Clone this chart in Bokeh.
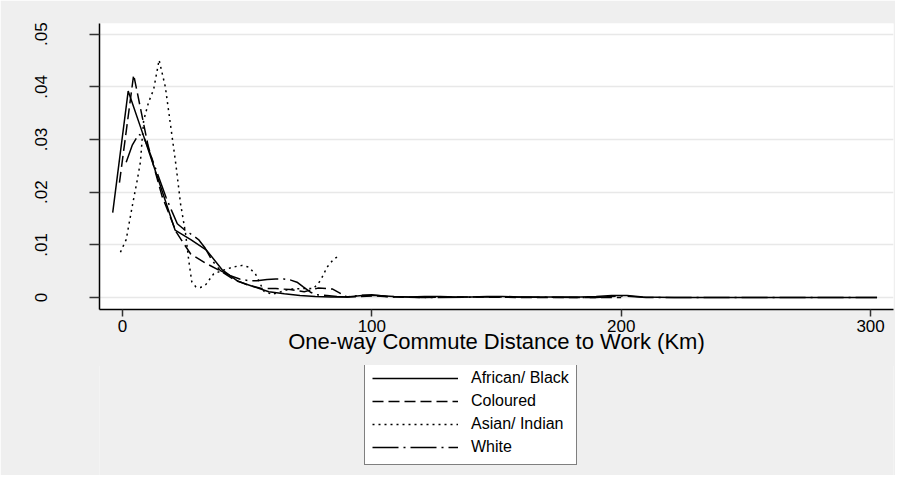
from bokeh.plotting import figure
from bokeh.models import Legend, LegendItem, FixedTicker, Range1d
from bokeh.layouts import column
from bokeh.embed import file_html
from bokeh.resources import INLINE

# ---- data ----
black_x = [-3.9, 2.3, 8.6, 14.8, 21.1, 27.4, 33.7, 39.9, 46.2, 52.4, 58.7, 64.9, 71.2, 77.4,
           83.7, 89.9, 96.2, 102.4, 108.7, 114.9, 121.2, 127.4, 133.7, 139.9, 146.2, 152.4,
           158.7, 171.2, 183.7, 190.0, 196.2, 202.4, 208.7, 221.2, 240.0, 260.0, 280.0, 302.6]
black_y = [0.0161, 0.0392, 0.0305, 0.0218, 0.0128, 0.0110, 0.0090, 0.0053, 0.0031, 0.0021,
           0.0011, 0.0007, 0.0004, 0.0002, 0.0001, 0.0001, 0.0004, 0.0004, 0.0002, 0.0001,
           0.0002, 0.0002, 0.0001, 0.0001, 0.0002, 0.0002, 0.0001, 0.0001, 0.0001, 0.0002,
           0.0004, 0.0004, 0.0001, 0.0000, 0.0000, 0.0000, 0.0000, 0.0000]

col_x = [-1.2, 4.5, 10.2, 15.9, 21.6, 27.3, 33.0, 38.7, 44.4, 50.1, 55.8, 61.5, 67.2, 72.9,
         78.6, 84.3, 90.0, 95.7, 101.4, 107.1, 120.0, 140.0, 160.0, 180.0, 200.0]
col_y = [0.0218, 0.0423, 0.0290, 0.0192, 0.0124, 0.0083, 0.0066, 0.0052, 0.0035, 0.0024,
         0.0017, 0.0017, 0.0015, 0.0011, 0.0018, 0.0016, 0.0001, 0.0002, 0.0003, 0.0001,
         0.0000, 0.0001, 0.0000, 0.0000, 0.0000]

asian_x = [-0.8, 1.5, 4.0, 5.9, 7.2, 8.5, 10.5, 12.5, 14.7, 17.2, 19.3, 21.5, 23.3, 25.3,
           26.6, 27.8, 29.5, 31.3, 33.5, 36.6, 40.5, 44.5, 48.0, 50.5, 53.3, 56.7, 60.0,
           63.0, 67.0, 72.0, 76.6, 79.4, 82.1, 84.6, 86.1]
asian_y = [0.0086, 0.0110, 0.0175, 0.0222, 0.0257, 0.0336, 0.0371, 0.0395, 0.0451, 0.0400,
           0.0327, 0.0250, 0.0178, 0.0122, 0.0070, 0.0030, 0.0020, 0.0019, 0.0025, 0.0045,
           0.0052, 0.0058, 0.0061, 0.0058, 0.0045, 0.0012, 0.0006, 0.0010, 0.0016, 0.0017,
           0.0017, 0.0032, 0.0058, 0.0072, 0.0077]

white_x = [1.5, 4.0, 6.5, 8.5, 9.9, 11.9, 14.6, 17.5, 19.9, 22.0, 24.5, 27.0, 30.5, 33.0,
           36.0, 39.3, 43.0, 47.0, 50.5, 54.0, 58.0, 61.5, 64.7, 67.5, 70.0, 72.5, 75.4,
           78.0, 82.0, 86.0, 90.0, 95.0, 100.0, 106.0, 120.0, 150.0, 190.0, 200.0, 210.0,
           250.0, 302.6]
white_y = [0.0257, 0.0290, 0.0310, 0.0305, 0.0289, 0.0263, 0.0228, 0.0190, 0.0163, 0.0140,
           0.0130, 0.0122, 0.0110, 0.0095, 0.0070, 0.0051, 0.0042, 0.0035, 0.0032, 0.0032,
           0.0034, 0.0035, 0.0035, 0.0033, 0.0029, 0.0020, 0.0010, 0.0005, 0.0004, 0.0002,
           0.0001, 0.0004, 0.0005, 0.0002, 0.0000, 0.0001, 0.0000, 0.0003, 0.0000, 0.0000,
           0.0000]

series_names = ["African/ Black", "Coloured", "Asian/ Indian", "White"]
x_ticks = [0, 100, 200, 300]
y_ticks = [0, 0.01, 0.02, 0.03, 0.04, 0.05]
y_tick_labels = ["0", ".01", ".02", ".03", ".04", ".05"]

FONT = "Liberation Sans"
BG = "#efefef"
dashes = ["solid", "11 5", "2 4", "26 5 2 5"]
all_x = [black_x, col_x, asian_x, white_x]
all_y = [black_y, col_y, asian_y, white_y]

# ---- main chart ----
p = figure(width=895, height=366, output_backend="svg", toolbar_location=None,
           x_range=Range1d(-9.2, 309.2), y_range=Range1d(-0.00228, 0.05203),
           min_border_left=99, min_border_right=2, min_border_top=23, min_border_bottom=57)
p.background_fill_color = "white"
p.border_fill_color = BG
p.outline_line_color = None

for xs, ys, d in zip(all_x, all_y, dashes):
    p.line(xs, ys, line_color="black", line_width=1.5, line_dash=d)

p.xaxis.ticker = FixedTicker(ticks=x_ticks)
p.yaxis.ticker = FixedTicker(ticks=y_ticks)
p.yaxis.major_label_overrides = {t: l for t, l in zip(y_ticks, y_tick_labels)}
p.yaxis.major_label_orientation = "vertical"
p.xaxis.axis_label = "One-way Commute Distance to Work (Km)"
for ax in (p.xaxis[0], p.yaxis[0]):
    ax.axis_line_color = "black"
    ax.axis_line_width = 1.5
    ax.major_tick_line_color = "#333333"
    ax.major_tick_line_width = 1.5
    ax.major_tick_in = 0
    ax.minor_tick_line_color = None
    ax.major_label_text_font = FONT
    ax.major_label_text_font_size = "17px"
    ax.major_label_text_color = "black"
p.yaxis.major_tick_out = 10
p.xaxis.major_tick_out = 7
p.yaxis.major_label_standoff = 42
p.xaxis.major_label_standoff = 3
p.xaxis.axis_label_text_font = FONT
p.xaxis.axis_label_text_font_size = "22px"
p.xaxis.axis_label_text_font_style = "normal"
p.xaxis.axis_label_text_color = "black"
p.xaxis.axis_label_standoff = -6

p.xgrid.grid_line_color = None
p.ygrid.grid_line_color = "#e8e8e8"
p.ygrid.grid_line_width = 1.5

# ---- legend panel (below the chart); its lines use the same data, kept out of view ----
q = figure(width=895, height=110, output_backend="svg", toolbar_location=None,
           x_axis_type=None, y_axis_type=None, x_range=Range1d(0, 1), y_range=Range1d(1, 2),
           min_border_left=99, min_border_right=2, min_border_top=0, min_border_bottom=0)
q.background_fill_color = BG
q.border_fill_color = BG
q.outline_line_color = None
q.xgrid.grid_line_color = None
q.ygrid.grid_line_color = None
q.margin = (-1, 0, 0, 0)

items = []
for name, xs, ys, d in zip(series_names, all_x, all_y, dashes):
    r = q.line(xs, ys, line_color="black", line_width=1.5, line_dash=d)
    items.append(LegendItem(label=name, renderers=[r]))

legend = Legend(items=items, location=(265, 10), orientation="vertical")
legend.glyph_width = 86
legend.glyph_height = 20
legend.label_height = 20
legend.label_standoff = 13
legend.spacing = 3
legend.padding = 7
legend.margin = 0
legend.label_text_font = FONT
legend.label_text_font_size = "16px"
legend.label_text_color = "black"
legend.border_line_color = "black"
legend.border_line_width = 1
legend.background_fill_color = "white"
legend.background_fill_alpha = 1
q.add_layout(legend, "center")

open("out.html", "w").write(file_html(column(p, q, spacing=0), INLINE))
